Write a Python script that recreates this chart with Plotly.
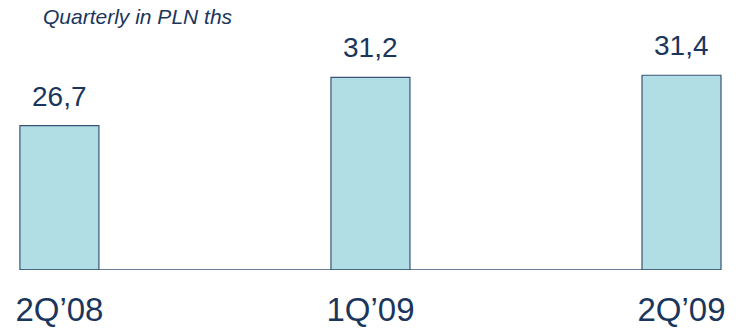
import plotly.graph_objects as go

# Quarterly values, PLN thousands
quarters = ["2Q\u201908", "1Q\u201909", "2Q\u201909"]
values = [26.7, 31.2, 31.4]
value_labels = ["26,7", "31,2", "31,4"]

NAVY = "#1B365D"
FILL = "#B0DEE4"
EDGE = "#3A5478"
FONT = "Arial, Liberation Sans, sans-serif"

AXIS_FLOOR = 13.2  # value axis starts here, bars rise from this level
bar_width = 0.254
x_idx = list(range(len(quarters)))

fig = go.Figure()
fig.add_trace(go.Bar(
    x=x_idx,
    y=[v - AXIS_FLOOR for v in values],
    base=AXIS_FLOOR,
    width=bar_width,
    marker=dict(color=FILL, line=dict(color=EDGE, width=1.2)),
    hoverinfo="skip",
))

for i, (v, lbl) in enumerate(zip(values, value_labels)):
    fig.add_annotation(
        x=i, y=v, text=lbl, showarrow=False,
        yanchor="bottom", yshift=12,
        font=dict(family=FONT, size=28, color=NAVY),
    )

# baseline running under the bars
fig.add_shape(
    type="line", xref="x", yref="y",
    x0=-bar_width / 2, x1=len(quarters) - 1 + bar_width / 2,
    y0=AXIS_FLOOR, y1=AXIS_FLOOR,
    line=dict(color=EDGE, width=1.5),
)

fig.add_annotation(
    xref="paper", yref="paper", x=41 / 742, y=1, yanchor="top", xanchor="left",
    yshift=-3, text="<i>Quarterly in PLN ths</i>", showarrow=False,
    font=dict(family=FONT, size=21, color=NAVY),
)

fig.update_layout(
    width=742, height=328,
    margin=dict(l=0, r=0, t=0, b=58, autoexpand=False),
    paper_bgcolor="white", plot_bgcolor="white",
    showlegend=False,
    xaxis=dict(
        range=[-0.191, 2.1945],
        tickmode="array", tickvals=x_idx, ticktext=quarters,
        tickfont=dict(family=FONT, size=33, color=NAVY),
        ticks="outside", ticklen=10, tickcolor="rgba(0,0,0,0)",
        showgrid=False, zeroline=False, showline=False,
        automargin=False,
    ),
    yaxis=dict(
        range=[AXIS_FLOOR, AXIS_FLOOR + 270 / 10.7],
        visible=False, showgrid=False, zeroline=False,
    ),
)

fig.write_html("out.html")
